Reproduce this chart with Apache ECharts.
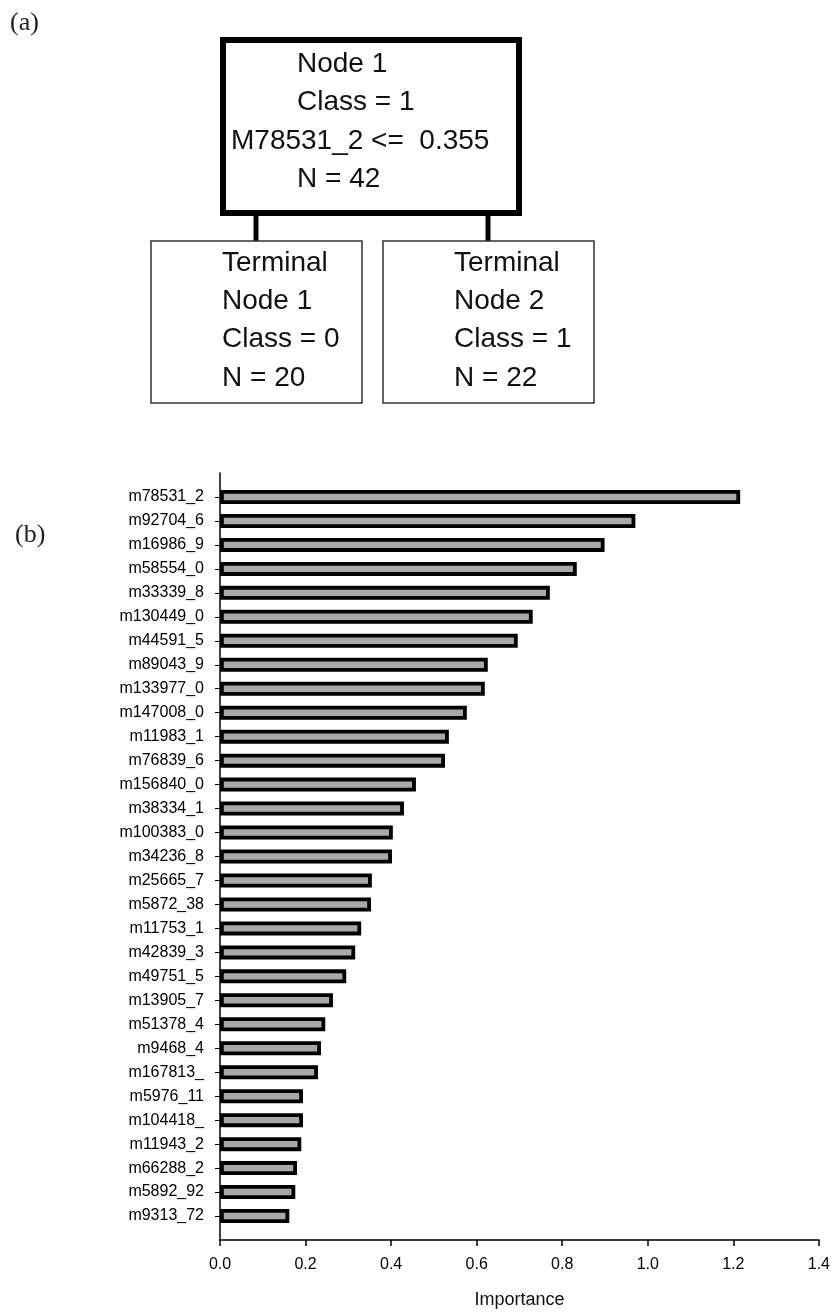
<!DOCTYPE html>
<html>
<head>
<meta charset="utf-8">
<script src="https://cdn.jsdelivr.net/npm/echarts@6/dist/echarts.min.js"></script>
<style>
  html, body { margin: 0; padding: 0; background: #fff; }
  #chart { width: 833px; height: 1314px; }
</style>
</head>
<body>
<div id="chart"></div>
<script>
// Variable importance, ordered from most to least important
const markers = ['m78531_2','m92704_6','m16986_9','m58554_0','m33339_8','m130449_0','m44591_5',
  'm89043_9','m133977_0','m147008_0','m11983_1','m76839_6','m156840_0','m38334_1','m100383_0',
  'm34236_8','m25665_7','m5872_38','m11753_1','m42839_3','m49751_5','m13905_7','m51378_4',
  'm9468_4','m167813_','m5976_11','m104418_','m11943_2','m66288_2','m5892_92','m9313_72'];
const importance = [1.216,0.971,0.899,0.834,0.771,0.731,0.696,0.626,0.619,0.577,0.535,0.526,
  0.458,0.430,0.404,0.402,0.355,0.353,0.330,0.316,0.295,0.264,0.246,0.236,0.229,0.194,
  0.194,0.190,0.180,0.176,0.162];
const xTicks = [0, 0.2, 0.4, 0.6, 0.8, 1.0, 1.2, 1.4];

// Classification tree text
const rootLines = ['Node 1', 'Class = 1', 'M78531_2 <=  0.355', 'N = 42'];
const leftLeafLines = ['Terminal', 'Node 1', 'Class = 0', 'N = 20'];
const rightLeafLines = ['Terminal', 'Node 2', 'Class = 1', 'N = 22'];

// Pad the category axis with an empty slot at each end so the axis runs half a step past the bars
const yCats = [''].concat(markers, ['']);
const yVals = [null].concat(importance, [null]);

const SANS = '"Liberation Sans", Arial, sans-serif';
const SERIF = '"Liberation Serif", "Times New Roman", serif';

function textBlock(lines, x, y0, step, xOverride) {
  return lines.map((t, i) => ({
    type: 'text',
    left: (xOverride && xOverride[i] != null) ? xOverride[i] : x,
    top: y0 + i * step - 16,
    style: { text: t, font: '28px ' + SANS, fill: '#111' }
  }));
}

const graphics = [
  { type: 'text', left: 10, top: 10, style: { text: '(a)', font: '26px ' + SERIF, fill: '#222' } },
  { type: 'text', left: 15, top: 522, style: { text: '(b)', font: '26px ' + SERIF, fill: '#222' } },
  // root node
  { type: 'rect', shape: { x: 223, y: 40, width: 296, height: 173 },
    style: { fill: 'none', stroke: '#000', lineWidth: 6 } },
  // connectors
  { type: 'line', shape: { x1: 256, y1: 214, x2: 256, y2: 241 }, style: { stroke: '#000', lineWidth: 5 } },
  { type: 'line', shape: { x1: 488, y1: 214, x2: 488, y2: 241 }, style: { stroke: '#000', lineWidth: 5 } },
  // terminal nodes
  { type: 'rect', shape: { x: 151, y: 241, width: 211, height: 162 },
    style: { fill: 'none', stroke: '#333', lineWidth: 1.5 } },
  { type: 'rect', shape: { x: 383, y: 241, width: 211, height: 162 },
    style: { fill: 'none', stroke: '#333', lineWidth: 1.5 } }
].concat(
  textBlock(rootLines, 297, 66, 38.5, [null, null, 231, null]),
  textBlock(leftLeafLines, 222, 265, 38.3),
  textBlock(rightLeafLines, 454, 265, 38.3)
);

const chart = echarts.init(document.getElementById('chart'), null, { renderer: 'canvas' });
chart.setOption({
  animation: false,
  backgroundColor: '#fff',
  graphic: graphics,
  grid: { left: 220, right: 13, top: 473, bottom: 69, containLabel: false },
  xAxis: {
    type: 'value', min: 0, max: 1.4, interval: 0.2,
    name: 'Importance', nameLocation: 'middle', nameGap: 51,
    nameTextStyle: { fontFamily: SANS, fontSize: 18, color: '#111' },
    axisLine: { show: true, lineStyle: { color: '#000', width: 1.5 } },
    axisTick: { show: true, inside: false, length: 6, lineStyle: { color: '#000', width: 1.5 } },
    axisLabel: {
      margin: 17, fontFamily: SANS, fontSize: 16, color: '#000',
      customValues: xTicks, formatter: v => v.toFixed(1)
    },
    splitLine: { show: false }
  },
  yAxis: {
    type: 'category', data: yCats, inverse: true, boundaryGap: false,
    axisLine: { show: true, lineStyle: { color: '#000', width: 1.5 } },
    axisTick: { show: true, length: 5, interval: (i, v) => v !== '', lineStyle: { color: '#000', width: 1 } },
    axisLabel: { interval: 0, margin: 16, fontFamily: SANS, fontSize: 16, color: '#000' },
    splitLine: { show: false }
  },
  series: [{
    type: 'bar',
    data: yVals,
    barWidth: 14,
    itemStyle: { color: '#a9a9a9', borderColor: '#000', borderWidth: 3.8 }
  }]
});
</script>
</body>
</html>
